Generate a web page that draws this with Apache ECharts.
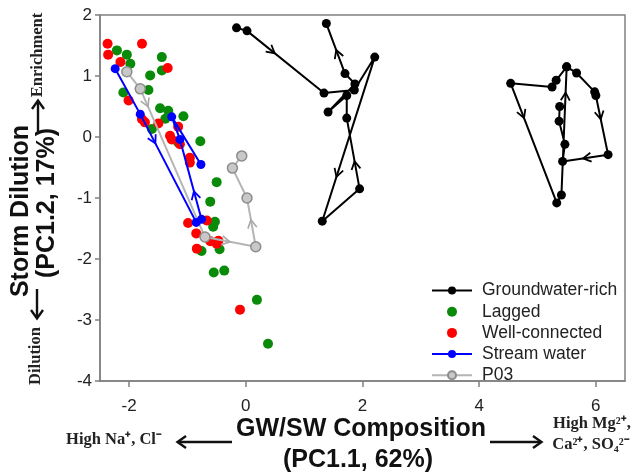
<!DOCTYPE html>
<html><head><meta charset="utf-8">
<script src="https://cdn.jsdelivr.net/npm/echarts@6/dist/echarts.min.js"></script>
<style>html,body{margin:0;padding:0;background:#fff}#c{width:640px;height:475px}</style>
</head><body><div id="c"></div>
<script>
// ---- data ----
const xTicks = [-2, 0, 2, 4, 6];
const yTicks = [-4, -3, -2, -1, 0, 1, 2];
const seriesNames = ['Groundwater-rich', 'Lagged', 'Well-connected', 'Stream water', 'P03'];

const gwRichLoop1 = [[-0.16,1.79],[0.02,1.74],[1.34,0.72],[1.86,0.77],[2.21,1.31],[1.31,-1.38],[1.95,-0.85],[1.73,0.31],[1.73,0.68],[1.41,0.41],[1.87,0.87],[1.70,1.04],[1.38,1.86]];
const gwRichLoop2 = [[5.50,1.15],[5.32,0.93],[5.25,0.82],[4.54,0.88],[5.33,-1.08],[5.41,-0.95],[5.50,1.15],[5.67,1.05],[5.98,0.74],[6.00,0.68],[6.21,-0.29],[5.43,-0.40],[5.47,-0.12],[5.37,0.26],[5.38,0.50]];
const streamWater = [[-2.24,1.12],[-1.81,0.375],[-0.85,-1.40],[-0.76,-1.35],[-1.13,-0.04],[-1.27,0.33],[-0.77,-0.45]];
const p03 = [[-2.04,1.07],[-1.81,0.79],[-0.70,-1.64],[0.17,-1.80],[0.02,-1.00],[-0.23,-0.51],[-0.07,-0.31]];
const lagged = [[-2.21,1.42],[-2.04,1.35],[-1.98,1.20],[-1.44,1.31],[-1.44,1.09],[-1.64,1.01],[-2.10,0.73],[-1.67,0.77],[-1.47,0.47],[-1.33,0.43],[-1.38,0.30],[-1.07,0.34],[-1.61,0.13],[-0.78,-0.07],[-1.16,-0.09],[-0.50,-0.74],[-0.61,-1.06],[-0.53,-1.39],[-0.56,-1.47],[-0.76,-1.87],[-0.45,-1.84],[-0.55,-2.22],[-0.37,-2.19],[0.19,-2.67],[0.38,-3.39]];
const wellConnected = [[-2.37,1.53],[-1.78,1.53],[-2.36,1.35],[-2.15,1.23],[-1.34,1.13],[-2.01,0.60],[-1.78,0.29],[-1.73,0.24],[-1.50,0.22],[-1.16,0.17],[-1.30,0.02],[-1.27,-0.04],[-1.13,-0.12],[-0.96,-0.34],[-0.96,-0.42],[-0.99,-1.41],[-0.67,-1.37],[-0.85,-1.58],[-0.84,-1.83],[-0.61,-1.71],[-0.50,-1.75],[-0.47,-1.70],[-0.10,-2.83]];

// direction arrows: [segment start index, fraction along segment]
const gwArrows1 = [[1,0.36],[4,0.73],[6,0.39],[11,0.47]];
const gwArrows2 = [[3,0.29],[5,0.80],[9,0.40],[10,0.55]];
const streamArrows = [[1,0.27],[3,0.35]];
const p03Arrows = [[1,0.12],[2,0.49],[3,0.55]];

// ---- helpers ----
function arrowData(path, specs) {
  return specs.map(([i, f]) => [path[i][0], path[i][1], path[i+1][0], path[i+1][1], f]);
}
function arrowSeries(name, data, color, width) {
  return {
    type: 'custom', name: name, z: 6, silent: true,
    data: data,
    encode: { x: [0, 2], y: [1, 3] },
    renderItem: function (params, api) {
      const p1 = api.coord([api.value(0), api.value(1)]);
      const p2 = api.coord([api.value(2), api.value(3)]);
      const f = api.value(4);
      const px = p1[0] + (p2[0] - p1[0]) * f, py = p1[1] + (p2[1] - p1[1]) * f;
      let dx = p2[0] - p1[0], dy = p2[1] - p1[1];
      const L = Math.sqrt(dx*dx + dy*dy) || 1; dx /= L; dy /= L;
      const len = 8, half = 4.5;
      const bx = px - dx*len, by = py - dy*len;
      return {
        type: 'polyline',
        shape: { points: [[bx - dy*half, by + dx*half], [px, py], [bx + dy*half, by - dx*half]] },
        style: { stroke: color, lineWidth: width, fill: null }
      };
    }
  };
}

const FONT = '"Liberation Sans", Arial, sans-serif';
const SERIF = '"Liberation Serif", "Times New Roman", serif';
const axisGray = '#808080';

const chart = echarts.init(document.getElementById('c'));
const option = {
  backgroundColor: '#fff',
  animation: false,
  grid: { left: 100, right: 15, top: 15, bottom: 94, show: true, borderColor: axisGray, borderWidth: 1.5, backgroundColor: 'transparent' },
  xAxis: {
    type: 'value', min: -2.5, max: 6.5,
    splitLine: { show: false },
    axisLine: { show: true, onZero: false, lineStyle: { color: axisGray, width: 1.5 } },
    axisTick: { show: true, inside: false, length: 6, lineStyle: { color: axisGray, width: 1.5 }, customValues: xTicks },
    axisLabel: { customValues: xTicks, margin: 17, fontSize: 17, fontFamily: FONT, color: '#222' }
  },
  yAxis: {
    type: 'value', min: -4, max: 2, interval: 1,
    splitLine: { show: false },
    axisLine: { show: true, onZero: false, lineStyle: { color: axisGray, width: 1.5 } },
    axisTick: { show: true, inside: false, length: 5, lineStyle: { color: axisGray, width: 1.5 }, customValues: yTicks },
    axisLabel: { customValues: yTicks, margin: 8, fontSize: 17, fontFamily: FONT, color: '#222' }
  },
  legend: {
    orient: 'vertical', left: 431, top: 281.5, padding: 0, itemWidth: 40, itemHeight: 10, itemGap: 3.2,
    selectedMode: false,
    textStyle: { fontSize: 17.5, fontFamily: FONT, color: '#222', lineHeight: 17, padding: [0,0,0,5] },
    data: seriesNames
  },
  series: [
    { name: 'Lagged', type: 'scatter', data: lagged, symbolSize: 10, z: 2, itemStyle: { color: '#098a09', opacity: 1 } },
    { name: 'Well-connected', type: 'scatter', data: wellConnected, symbolSize: 10, z: 2, itemStyle: { color: '#ff0000', opacity: 1 } },
    { name: 'P03', type: 'line', data: p03, symbol: 'circle', symbolSize: 10, z: 3,
      lineStyle: { color: '#b5b5b5', width: 2 }, itemStyle: { color: '#c8c8c8', borderColor: '#8c8c8c', borderWidth: 1.5 } },
    arrowSeries('p03-arrows', arrowData(p03, p03Arrows), '#a8a8a8', 1.6),
    { name: 'Stream water', type: 'line', data: streamWater, symbol: 'circle', symbolSize: 9, z: 4,
      lineStyle: { color: '#0000ff', width: 2 }, itemStyle: { color: '#0000ff' } },
    arrowSeries('stream-arrows', arrowData(streamWater, streamArrows), '#0000ff', 1.8),
    { name: 'Groundwater-rich', type: 'line', data: gwRichLoop1, symbol: 'circle', symbolSize: 9, z: 5,
      lineStyle: { color: '#000', width: 2 }, itemStyle: { color: '#000' } },
    { name: 'Groundwater-rich', type: 'line', data: gwRichLoop2, symbol: 'circle', symbolSize: 9, z: 5,
      lineStyle: { color: '#000', width: 2 }, itemStyle: { color: '#000' } },
    arrowSeries('gw-arrows-1', arrowData(gwRichLoop1, gwArrows1), '#000', 1.8),
    arrowSeries('gw-arrows-2', arrowData(gwRichLoop2, gwArrows2), '#000', 1.8)
  ],
  graphic: [
    // x axis title
    { type: 'text', x: 361, y: 429, style: { text: 'GW/SW Composition', font: 'bold 25px ' + FONT, fill: '#111', textAlign: 'center', textVerticalAlign: 'middle', align: 'center', verticalAlign: 'middle' } },
    { type: 'text', x: 358, y: 460, style: { text: '(PC1.1, 62%)', font: 'bold 25px ' + FONT, fill: '#111', textAlign: 'center', textVerticalAlign: 'middle', align: 'center', verticalAlign: 'middle' } },
    { type: 'text', x: 114, y: 440, style: { text: 'High Na\u207A, Cl\u207B', font: 'bold 16.5px ' + SERIF, fill: '#222', textAlign: 'center', textVerticalAlign: 'middle', align: 'center', verticalAlign: 'middle' } },
    { type: 'text', x: 592, y: 424, style: { text: 'High Mg\u00B2\u207A,', font: 'bold 16.5px ' + SERIF, fill: '#222', textAlign: 'center', textVerticalAlign: 'middle', align: 'center', verticalAlign: 'middle' } },
    { type: 'text', x: 591, y: 445, style: { text: 'Ca\u00B2\u207A, SO\u2084\u00B2\u207B', font: 'bold 16.5px ' + SERIF, fill: '#222', textAlign: 'center', textVerticalAlign: 'middle', align: 'center', verticalAlign: 'middle' } },
    // x arrows
    { type: 'line', shape: { x1: 178, y1: 442, x2: 232, y2: 442 }, style: { stroke: '#111', lineWidth: 2.4 } },
    { type: 'polyline', shape: { points: [[186, 436], [177.5, 442], [186, 448]] }, style: { stroke: '#111', lineWidth: 2.4, fill: null } },
    { type: 'line', shape: { x1: 490, y1: 442, x2: 541, y2: 442 }, style: { stroke: '#111', lineWidth: 2.4 } },
    { type: 'polyline', shape: { points: [[533, 436], [541.5, 442], [533, 448]] }, style: { stroke: '#111', lineWidth: 2.4, fill: null } },
    // y axis title
    { type: 'text', x: 21, y: 211, rotation: Math.PI / 2, style: { text: 'Storm Dilution', font: 'bold 25px ' + FONT, fill: '#111', textAlign: 'center', textVerticalAlign: 'middle', align: 'center', verticalAlign: 'middle' } },
    { type: 'text', x: 47, y: 203, rotation: Math.PI / 2, style: { text: '(PC1.2, 17%)', font: 'bold 25px ' + FONT, fill: '#111', textAlign: 'center', textVerticalAlign: 'middle', align: 'center', verticalAlign: 'middle' } },
    { type: 'text', x: 38, y: 55, rotation: Math.PI / 2, style: { text: 'Enrichment', font: 'bold 16.5px ' + SERIF, fill: '#222', textAlign: 'center', textVerticalAlign: 'middle', align: 'center', verticalAlign: 'middle' } },
    { type: 'text', x: 36, y: 356, rotation: Math.PI / 2, style: { text: 'Dilution', font: 'bold 16.5px ' + SERIF, fill: '#222', textAlign: 'center', textVerticalAlign: 'middle', align: 'center', verticalAlign: 'middle' } },
    // y arrows
    { type: 'line', shape: { x1: 38, y1: 134, x2: 38, y2: 101 }, style: { stroke: '#111', lineWidth: 2.4 } },
    { type: 'polyline', shape: { points: [[32, 109], [38, 100.5], [44, 109]] }, style: { stroke: '#111', lineWidth: 2.4, fill: null } },
    { type: 'line', shape: { x1: 37, y1: 289, x2: 37, y2: 318 }, style: { stroke: '#111', lineWidth: 2.4 } },
    { type: 'polyline', shape: { points: [[31, 310], [37, 318.5], [43, 310]] }, style: { stroke: '#111', lineWidth: 2.4, fill: null } }
  ]
};
chart.setOption(option);
</script>
</body></html>
